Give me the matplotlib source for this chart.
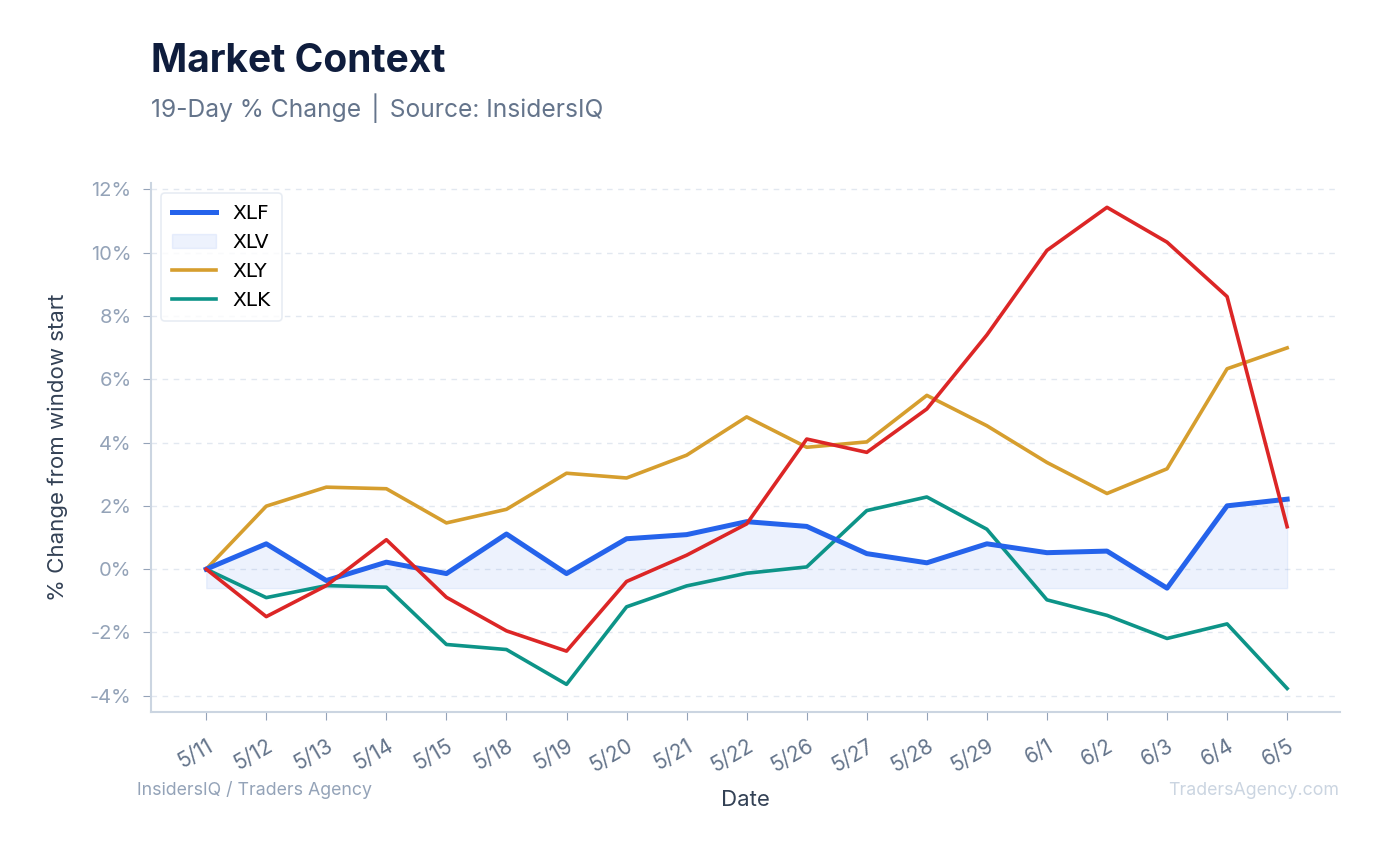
import matplotlib
matplotlib.use("Agg")
import matplotlib.pyplot as plt
import numpy as np

dates = ["5/11", "5/12", "5/13", "5/14", "5/15", "5/18", "5/19", "5/20", "5/21", "5/22",
         "5/26", "5/27", "5/28", "5/29", "6/1", "6/2", "6/3", "6/4", "6/5"]

xlf = [0.0, 0.80, -0.36, 0.22, -0.14, 1.11, -0.14, 0.96, 1.09, 1.50,
       1.35, 0.49, 0.20, 0.80, 0.52, 0.57, -0.60, 2.00, 2.21]
xlv = [0.0, -1.50, -0.52, 0.93, -0.89, -1.95, -2.59, -0.39, 0.44, 1.43,
       4.11, 3.69, 5.06, 7.40, 10.07, 11.43, 10.33, 8.61, 1.34]
xly = [0.0, 1.99, 2.59, 2.54, 1.46, 1.89, 3.03, 2.88, 3.60, 4.81,
       3.85, 4.02, 5.49, 4.53, 3.37, 2.39, 3.17, 6.33, 6.99]
xlk = [0.0, -0.90, -0.52, -0.57, -2.38, -2.54, -3.64, -1.19, -0.53, -0.13,
       0.07, 1.85, 2.28, 1.26, -0.97, -1.46, -2.19, -1.73, -3.77]

plt.rcParams['font.family'] = ['Inter', 'DejaVu Sans']

fig = plt.figure(figsize=(13.85, 8.55), dpi=100)
ax = fig.add_axes([0.109, 0.167, 0.8585, 0.619])

x = np.arange(len(dates))

# XLF line with its shaded area down to the window low
ax.plot(x, xlf, color='#2563eb', lw=3.6, label='XLF', zorder=4)
ax.fill_between(x, xlf, min(xlf), color='#2563eb', alpha=0.08, label='XLV', zorder=1)
ax.plot(x, xlv, color='#dc2626', lw=2.6, label='_nolegend_', zorder=5)
ax.plot(x, xly, color='#d69e2e', lw=2.6, label='XLY', zorder=3)
ax.plot(x, xlk, color='#0d9488', lw=2.6, label='XLK', zorder=3)

ax.set_xlim(-0.92, 18.88)
ax.set_ylim(-4.52, 12.2)
ax.set_xticks(x)
ax.set_xticklabels(dates, rotation=30, ha='right', rotation_mode='anchor')
ax.set_yticks(np.arange(-4, 13, 2))
ax.set_yticklabels(["%d%%" % v for v in range(-4, 13, 2)])

ax.tick_params(axis='x', colors='#94a3b8', labelcolor='#64748b', labelsize=15, length=6, pad=11)
ax.tick_params(axis='y', colors='#94a3b8', labelcolor='#94a3b8', labelsize=14.5, length=6, pad=8)

ax.grid(axis='y', color='#e2e8f0', linestyle=(0, (4, 4)), linewidth=1)
ax.set_axisbelow(True)
for s in ['top', 'right']:
    ax.spines[s].set_visible(False)
for s in ['left', 'bottom']:
    ax.spines[s].set_color('#cbd5e1')
    ax.spines[s].set_linewidth(1.5)

ax.set_xlabel("Date", fontsize=16, color='#334155', labelpad=10)
ax.set_ylabel("% Change from window start", fontsize=16, color='#334155', labelpad=16)

leg = ax.legend(loc='upper left', frameon=True, borderpad=0.55,
                handlelength=2.2, labelspacing=0.5, prop={'family': 'DejaVu Sans', 'size': 14.5})
leg.get_frame().set_edgecolor('#e2e8f0')
leg.get_frame().set_linewidth(1.2)

fig.text(0.109, 0.928, "Market Context", fontsize=28, fontweight='bold',
         color='#0f1d3d', va='center', ha='left')
fig.text(0.109, 0.873, "19-Day % Change \u2502 Source: InsidersIQ", fontsize=17.7,
         color='#64748b', va='center', ha='left')

fig.text(0.099, 0.076, "InsidersIQ / Traders Agency", fontsize=12.8,
         color='#94a3b8', va='center', ha='left')
fig.text(0.967, 0.076, "TradersAgency.com", fontsize=12.8,
         color='#cbd5e1', va='center', ha='right')

fig.savefig("out.png", dpi=100, facecolor='white')
